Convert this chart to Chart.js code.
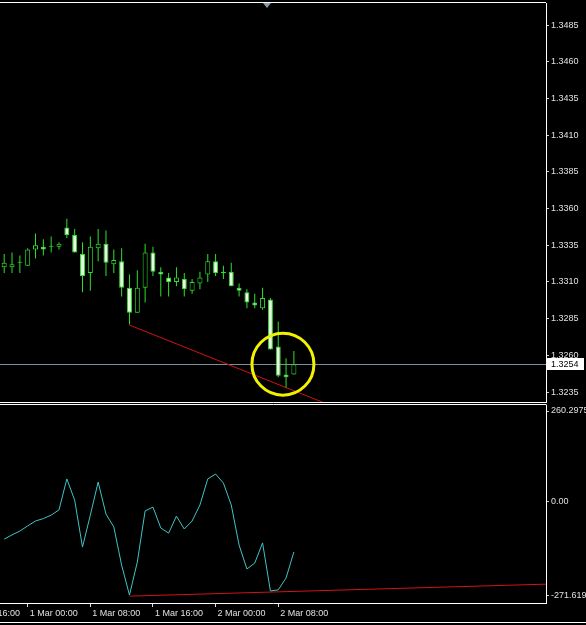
<!DOCTYPE html>
<html>
<head>
<meta charset="utf-8">
<script src="https://cdn.jsdelivr.net/npm/chart.js@4.4.1/dist/chart.umd.min.js"></script>
<style>
  html, body { margin: 0; padding: 0; background: #000; overflow: hidden; }
  #wrap { position: relative; width: 586px; height: 625px; }
  canvas { position: absolute; left: 0; }
  #main { top: 0; }
  #sub { top: 404px; }
</style>
</head>
<body>
<div id="wrap">
  <canvas id="main" width="586" height="404"></canvas>
  <canvas id="sub" width="586" height="221"></canvas>
</div>
<script>
// --- DATA (H1 candles, index 0 = 28 Feb 21:00) ---
const opens  = [1.3320, 1.3320, 1.3323, 1.3321, 1.3332, 1.3334, 1.3334, 1.3334, 1.3347, 1.3342,
                1.3329, 1.3316, 1.3333, 1.3336, 1.3322, 1.3324, 1.3306, 1.3289, 1.3306, 1.3330,
                1.3317, 1.3313, 1.3310, 1.3312, 1.3304, 1.3309, 1.3315, 1.3324, 1.3317, 1.3317,
                1.3306, 1.3303, 1.3296, 1.3292, 1.3298, 1.3266, 1.3247, 1.3247];
const highs  = [1.3329, 1.3330, 1.3328, 1.3333, 1.3343, 1.3339, 1.3341, 1.3337, 1.3353, 1.3346,
                1.3337, 1.3341, 1.3346, 1.3345, 1.3332, 1.3333, 1.3315, 1.3318, 1.3336, 1.3334,
                1.3320, 1.3316, 1.3320, 1.3316, 1.3312, 1.3317, 1.3329, 1.3329, 1.3321, 1.3323,
                1.3309, 1.3305, 1.3302, 1.3306, 1.3299, 1.3283, 1.3258, 1.3263];
const lows   = [1.3316, 1.3316, 1.3316, 1.3321, 1.3326, 1.3328, 1.3330, 1.3332, 1.3340, 1.3330,
                1.3303, 1.3304, 1.3324, 1.3314, 1.3316, 1.3300, 1.3281, 1.3289, 1.3296, 1.3314,
                1.3300, 1.3300, 1.3307, 1.3300, 1.3302, 1.3305, 1.3310, 1.3314, 1.3312, 1.3307,
                1.3300, 1.3292, 1.3292, 1.3291, 1.3264, 1.3245, 1.3238, 1.3247];
const closes = [1.3323, 1.3322, 1.3323, 1.3332, 1.3335, 1.3332, 1.3334, 1.3336, 1.3342, 1.3330,
                1.3314, 1.3334, 1.3336, 1.3323, 1.3325, 1.3306, 1.3289, 1.3306, 1.3330, 1.3317,
                1.3315, 1.3310, 1.3313, 1.3305, 1.3310, 1.3313, 1.3324, 1.3316, 1.3316, 1.3307,
                1.3304, 1.3296, 1.3294, 1.3299, 1.3264, 1.3246, 1.3245, 1.3254];
const cci    = [-108, -96, -85, -70, -56, -49, -39, -24, 65, 4,
                -131, -39, 56, -36, -73, -183, -269, -174, -27, -16,
                -76, -91, -42, -79, -56, -10, 65, 79, 53, -10,
                -125, -194, -177, -119, -257, -254, -220, -145];

const priceTicks = [1.3235, 1.3260, 1.3285, 1.3310, 1.3335, 1.3360, 1.3385, 1.3410, 1.3435, 1.3460, 1.3485];
const cciTicks = [-271.619, 0, 260.2975];
const cciTickLabels = ['-271.619', '0.00', '260.2975'];
const timeTickIdx = [-5, 3, 11, 19, 27, 35];
const timeLabels = ['28 Feb 16:00', '1 Mar 00:00', '1 Mar 08:00', '1 Mar 16:00', '2 Mar 00:00', '2 Mar 08:00'];

const priceTrend = [{ x: 16, y: 1.32806 }, { x: 44, y: 1.3221 }];
const cciTrend = [{ x: 16, y: -272 }, { x: 70, y: -237 }];
const circleAt = { x: 35.6, y: 1.3254 };
const shiftAt = 33.6;

// --- STYLE ---
const X_MIN = -0.536, X_MAX = 69.2;
const AXIS_W = 40;
const GREEN = '#2ee02e', BEAR_FILL = '#e2fcdc', TXT = '#e0e0e0';
Chart.defaults.font.family = '"Liberation Sans", Arial, sans-serif';
Chart.defaults.font.size = 9;
Chart.defaults.color = TXT;

function fixAxis(w) {
    return (s) => {
        if (w) s.width = w;
        s.paddingTop = 0; s.paddingBottom = 0; s.paddingLeft = 0; s.paddingRight = 0;
    };
}

// --- MAIN PANEL DECOR ---
const mainDecor = {
    id: 'mainDecor',
    beforeDatasetsDraw(c) {
        const { ctx, chartArea: a, scales: { y } } = c;
        const py = Math.round(y.getPixelForValue(closes[closes.length - 1])) + 0.5;
        ctx.save();
        ctx.strokeStyle = '#7d8ea0'; ctx.lineWidth = 1;
        ctx.beginPath(); ctx.moveTo(a.left, py); ctx.lineTo(a.right, py); ctx.stroke();
        ctx.restore();
    },
    afterDraw(c) {
        const { ctx, chartArea: a, scales: { x, y } } = c;
        ctx.save();
        // frame
        ctx.strokeStyle = '#ffffff'; ctx.lineWidth = 1;
        ctx.beginPath();
        ctx.moveTo(0, a.top - 0.5); ctx.lineTo(a.right, a.top - 0.5);
        ctx.moveTo(0, a.bottom + 0.5); ctx.lineTo(a.right + 0.5, a.bottom + 0.5);
        ctx.stroke();
        // shift marker
        const sx = Math.round(x.getPixelForValue(shiftAt));
        ctx.fillStyle = '#8a99aa';
        ctx.beginPath(); ctx.moveTo(sx - 4, a.top); ctx.lineTo(sx + 4, a.top); ctx.lineTo(sx, a.top + 5); ctx.closePath(); ctx.fill();
        // yellow circle
        ctx.strokeStyle = '#f2f200'; ctx.lineWidth = 3;
        ctx.beginPath();
        ctx.arc(x.getPixelForValue(circleAt.x), y.getPixelForValue(circleAt.y), 31, 0, Math.PI * 2);
        ctx.stroke();
        // last price box
        const last = closes[closes.length - 1];
        const py = Math.round(y.getPixelForValue(last));
        ctx.fillStyle = '#ffffff';
        ctx.fillRect(a.right + 1, py - 6, 37, 12);
        ctx.fillStyle = '#000000';
        ctx.font = '9px "Liberation Sans", Arial, sans-serif';
        ctx.textBaseline = 'middle'; ctx.textAlign = 'left';
        ctx.fillText(last.toFixed(4), a.right + 5, py + 0.5);
        ctx.restore();
    }
};

// --- SUB PANEL DECOR ---
const subDecor = {
    id: 'subDecor',
    afterDraw(c) {
        const { ctx, chartArea: a, width, height } = c;
        ctx.save();
        ctx.strokeStyle = '#ffffff'; ctx.lineWidth = 1;
        ctx.beginPath();
        ctx.moveTo(0, a.top - 0.5); ctx.lineTo(a.right + 0.5, a.top - 0.5);
        ctx.moveTo(0, height - 2.5); ctx.lineTo(width, height - 2.5);
        ctx.stroke();
        ctx.restore();
    }
};

// --- MAIN CHART ---
new Chart(document.getElementById('main').getContext('2d'), {
    type: 'bar',
    data: {
        datasets: [
            {
                type: 'bar', order: 0, grouped: false,
                data: opens.map((o, i) => ({ x: i, y: [o, closes[i]] })),
                backgroundColor: opens.map((o, i) => closes[i] >= o ? '#000000' : BEAR_FILL),
                borderColor: GREEN, borderWidth: 1, borderSkipped: false,
                barThickness: 5, minBarLength: 1, inflateAmount: 0
            },
            {
                type: 'bar', order: 1, grouped: false,
                data: lows.map((l, i) => ({ x: i, y: [l, highs[i]] })),
                backgroundColor: GREEN, borderWidth: 0,
                barThickness: 1, inflateAmount: 0
            },
            {
                type: 'line', order: 2, data: priceTrend,
                borderColor: '#d01414', borderWidth: 1, pointRadius: 0
            }
        ]
    },
    options: {
        responsive: false, animation: false,
        layout: { padding: { top: 3, bottom: 2, left: 0, right: 0 } },
        plugins: { legend: { display: false }, tooltip: { enabled: false } },
        scales: {
            x: { type: 'linear', min: X_MIN, max: X_MAX, offset: false, grid: { offset: false }, display: false },
            y: {
                position: 'right', min: 1.32282, max: 1.3500,
                afterBuildTicks: s => { s.ticks = priceTicks.map(v => ({ value: v })); },
                afterFit: fixAxis(AXIS_W),
                ticks: { callback: v => Number(v).toFixed(4), padding: 2, color: TXT, autoSkip: false },
                grid: { drawOnChartArea: false, drawTicks: true, tickLength: 3, color: '#cfcfcf' },
                border: { display: true, color: '#ffffff' }
            }
        }
    },
    plugins: [mainDecor]
});

// --- CCI CHART ---
new Chart(document.getElementById('sub').getContext('2d'), {
    type: 'line',
    data: {
        datasets: [
            {
                order: 0, data: cci.map((v, i) => ({ x: i, y: v })),
                borderColor: '#3fc4c4', borderWidth: 1, pointRadius: 0, tension: 0
            },
            {
                order: 1, data: cciTrend,
                borderColor: '#d01414', borderWidth: 1, pointRadius: 0
            }
        ]
    },
    options: {
        responsive: false, animation: false,
        layout: { padding: { top: 1, bottom: 0, left: 0, right: 0 } },
        plugins: { legend: { display: false }, tooltip: { enabled: false } },
        scales: {
            x: {
                type: 'linear', min: X_MIN, max: X_MAX, offset: false,
                afterBuildTicks: s => { s.ticks = timeTickIdx.map(v => ({ value: v })); },
                afterFit: s => { s.height = 22; s.paddingLeft = 0; s.paddingRight = 0; },
                ticks: {
                    autoSkip: false, maxRotation: 0, align: 'start', labelOffset: 2, padding: 1, color: TXT,
                    callback: v => timeLabels[timeTickIdx.indexOf(v)] || ''
                },
                grid: { drawOnChartArea: false, drawTicks: true, tickLength: 4, color: '#e0e0e0' },
                border: { display: true, color: '#ffffff' }
            },
            y: {
                position: 'right', min: -291.75, max: 277.55,
                afterBuildTicks: s => { s.ticks = cciTicks.map(v => ({ value: v })); },
                afterFit: fixAxis(AXIS_W),
                ticks: {
                    autoSkip: false, padding: 2, color: TXT,
                    callback: v => cciTickLabels[cciTicks.indexOf(v)]
                },
                grid: { drawOnChartArea: false, drawTicks: true, tickLength: 3, color: '#cfcfcf' },
                border: { display: true, color: '#ffffff' }
            }
        }
    },
    plugins: [subDecor]
});
</script>
</body>
</html>
